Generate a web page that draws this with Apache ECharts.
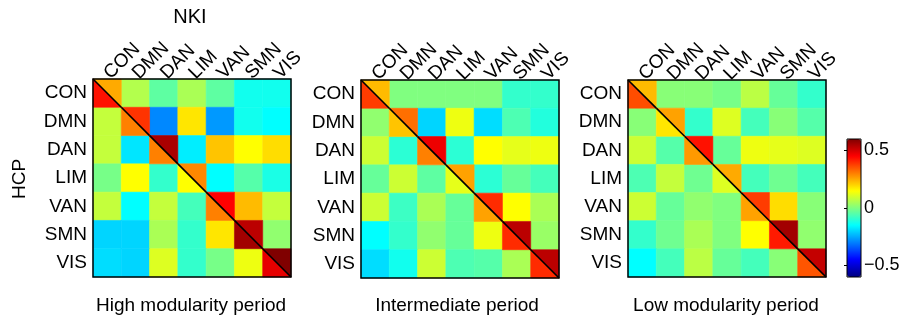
<!DOCTYPE html>
<html>
<head>
<meta charset="utf-8">
<script src="https://cdn.jsdelivr.net/npm/echarts@6/dist/echarts.min.js"></script>
<style>html,body{margin:0;padding:0;background:#fff;}#chart{width:908px;height:325px;}</style>
</head>
<body>
<div id="chart"></div>
<script>
// ---- Data ----
const categories = ['CON', 'DMN', 'DAN', 'LIM', 'VAN', 'SMN', 'VIS'];
const panelTitles = ['High modularity period', 'Intermediate period', 'Low modularity period'];
const colorbarTicks = [-0.5, 0, 0.5];
const colorMin = -0.6;
const colorMax = 0.6;

// Off-diagonal: upper triangle = NKI, lower triangle = HCP (rows top->bottom, cols left->right)
const highMatrix = [
  [null, 0.06, -0.04, 0.05, -0.04, -0.13, -0.13],
  [0.08, null, -0.29, 0.18, -0.27, -0.13, -0.15],
  [0.08, -0.18, null, -0.17, 0.22, 0.15, 0.19],
  [-0.01, 0.15, -0.09, null, -0.15, -0.05, -0.12],
  [0.08, -0.15, 0.08, -0.07, null, 0.23, 0.08],
  [-0.20, -0.20, 0.05, -0.09, 0.18, null, 0.02],
  [-0.19, -0.20, 0.11, -0.09, -0.01, 0.13, null]
];
const highDiagNKI = [0.25, 0.39, 0.55, 0.29, 0.45, 0.53, 0.60];
const highDiagHCP = [0.43, 0.30, 0.30, 0.15, 0.30, 0.56, 0.48];

const interMatrix = [
  [null, 0.00, 0.00, 0.00, 0.00, -0.09, -0.09],
  [0.02, null, -0.20, 0.13, -0.19, -0.06, -0.11],
  [0.09, -0.10, null, -0.10, 0.15, 0.12, 0.13],
  [-0.03, 0.09, -0.04, null, -0.10, -0.03, -0.07],
  [0.09, -0.08, 0.05, -0.03, null, 0.15, 0.05],
  [-0.15, -0.09, 0.02, -0.03, 0.13, null, 0.03],
  [-0.19, -0.13, 0.09, -0.06, -0.05, 0.05, null]
];
const interDiagNKI = [0.23, 0.32, 0.47, 0.26, 0.40, 0.53, 0.53];
const interDiagHCP = [0.38, 0.22, 0.30, 0.12, 0.26, 0.40, 0.40];

const lowMatrix = [
  [null, 0.01, 0.01, -0.01, 0.07, -0.03, -0.09],
  [0.01, null, -0.09, 0.11, -0.07, 0.01, -0.05],
  [0.09, -0.05, null, -0.03, 0.13, 0.12, 0.11],
  [-0.06, 0.08, -0.02, null, -0.07, -0.02, -0.07],
  [0.09, -0.03, 0.02, 0.00, null, 0.19, 0.01],
  [-0.09, -0.02, 0.05, 0.00, 0.15, null, 0.02],
  [-0.15, -0.07, 0.07, -0.03, -0.07, 0.01, null]
];
const lowDiagNKI = [0.23, 0.26, 0.43, 0.25, 0.38, 0.56, 0.52];
const lowDiagHCP = [0.36, 0.18, 0.27, 0.11, 0.26, 0.42, 0.35];

// ---- Build ----
const panels = [
  { m: highMatrix, nki: highDiagNKI, hcp: highDiagHCP },
  { m: interMatrix, nki: interDiagNKI, hcp: interDiagHCP },
  { m: lowMatrix, nki: lowDiagNKI, hcp: lowDiagHCP }
];
const gridBoxes = [
  { left: 93, top: 79, width: 198, height: 198 },
  { left: 361, top: 80, width: 198, height: 198 },
  { left: 628, top: 80, width: 198, height: 197 }
];
const FONT = 'Liberation Sans, Arial, Helvetica, sans-serif';

function buildData(p) {
  const out = [];
  for (let r = 0; r < categories.length; r++) {
    for (let c = 0; c < categories.length; c++) {
      if (r === c) {
        out.push([c, r, p.nki[r], 1]);
        out.push([c, r, p.hcp[r], 2]);
      } else {
        out.push([c, r, p.m[r][c], 0]);
      }
    }
  }
  return out;
}

function renderItem(params, api) {
  const x = api.value(0), y = api.value(1), part = api.value(3);
  const c = api.coord([x, y]);
  const s = api.size([1, 1]);
  const x0 = c[0] - s[0] / 2, x1 = c[0] + s[0] / 2;
  const y0 = c[1] - s[1] / 2, y1 = c[1] + s[1] / 2;
  const color = api.visual('color');
  if (part === 0) {
    return { type: 'rect', shape: { x: x0, y: y0, width: s[0], height: s[1] },
      style: { fill: color, stroke: color, lineWidth: 0.6 } };
  }
  if (part === 1) {
    return { type: 'group', children: [
      { type: 'polygon', shape: { points: [[x0, y0], [x1, y0], [x1, y1]] },
        style: { fill: color, stroke: color, lineWidth: 0.6 }, z2: 1 },
      { type: 'line', shape: { x1: x0, y1: y0, x2: x1, y2: y1 },
        style: { stroke: '#000', lineWidth: 1.6 }, z2: 20 }
    ] };
  }
  return { type: 'polygon', shape: { points: [[x0, y0], [x0, y1], [x1, y1]] },
    style: { fill: color, stroke: color, lineWidth: 0.6 }, z2: 1 };
}

const grids = [], xAxes = [], yAxes = [], series = [];
panels.forEach((p, i) => {
  grids.push(Object.assign({ show: true, borderColor: '#000', borderWidth: 1.5,
    backgroundColor: 'transparent', z: 10 }, gridBoxes[i]));
  xAxes.push({ type: 'category', gridIndex: i, data: categories, position: 'top',
    axisLine: { show: false }, axisTick: { show: false }, splitLine: { show: false },
    axisLabel: { rotate: -45, fontSize: 19, color: '#000', margin: 3, fontFamily: FONT, interval: 0 } });
  yAxes.push({ type: 'category', gridIndex: i, data: categories, inverse: true,
    axisLine: { show: false }, axisTick: { show: false }, splitLine: { show: false },
    axisLabel: { fontSize: 19, color: '#000', margin: 6, fontFamily: FONT, interval: 0 } });
  series.push({ type: 'custom', xAxisIndex: i, yAxisIndex: i, renderItem: renderItem,
    data: buildData(p), encode: { x: 0, y: 1 }, silent: true, z: 2 });
});

// colorbar axis
grids.push({ show: true, left: 847, top: 139, width: 14, height: 138, borderColor: '#000',
  borderWidth: 1, backgroundColor: 'transparent', z: 10 });
xAxes.push({ type: 'value', gridIndex: 3, show: false, min: 0, max: 1 });
yAxes.push({ type: 'value', gridIndex: 3, position: 'right', min: colorMin, max: colorMax,
  axisLine: { show: false }, splitLine: { show: false },
  axisTick: { show: true, inside: true, length: 3, customValues: colorbarTicks, lineStyle: { color: '#000' } },
  axisLabel: { customValues: colorbarTicks, fontSize: 18, color: '#000', margin: 3, fontFamily: FONT,
    formatter: v => (v < 0 ? '\u2212' + Math.abs(v) : String(v)) } });

const jet = ['#000080', '#0000ff', '#0080ff', '#00ffff', '#80ff80', '#ffff00', '#ff8000', '#ff0000', '#800000'];

const chart = echarts.init(document.getElementById('chart'), null, { renderer: 'canvas' });
chart.setOption({
  animation: false,
  backgroundColor: '#fff',
  textStyle: { fontFamily: FONT },
  grid: grids,
  xAxis: xAxes,
  yAxis: yAxes,
  visualMap: {
    type: 'continuous', min: colorMin, max: colorMax, dimension: 2, seriesIndex: [0, 1, 2],
    inRange: { color: jet }, calculable: false, orient: 'vertical',
    left: 847, top: 139, itemWidth: 14, itemHeight: 138, padding: 0, hoverLink: false
  },
  graphic: [
    { type: 'text', x: 190, y: 17, style: { text: 'NKI', fontSize: 20, fill: '#000', align: 'center', verticalAlign: 'middle', fontFamily: FONT } },
    { type: 'text', x: 20, y: 179, rotation: Math.PI / 2, style: { text: 'HCP', fontSize: 19, fill: '#000', align: 'center', verticalAlign: 'middle', fontFamily: FONT } },
    { type: 'text', x: 191, y: 306, style: { text: panelTitles[0], fontSize: 19, fill: '#000', align: 'center', verticalAlign: 'middle', fontFamily: FONT } },
    { type: 'text', x: 457, y: 306, style: { text: panelTitles[1], fontSize: 19, fill: '#000', align: 'center', verticalAlign: 'middle', fontFamily: FONT } },
    { type: 'text', x: 726, y: 306, style: { text: panelTitles[2], fontSize: 19, fill: '#000', align: 'center', verticalAlign: 'middle', fontFamily: FONT } }
  ],
  series: series
});
</script>
</body>
</html>
